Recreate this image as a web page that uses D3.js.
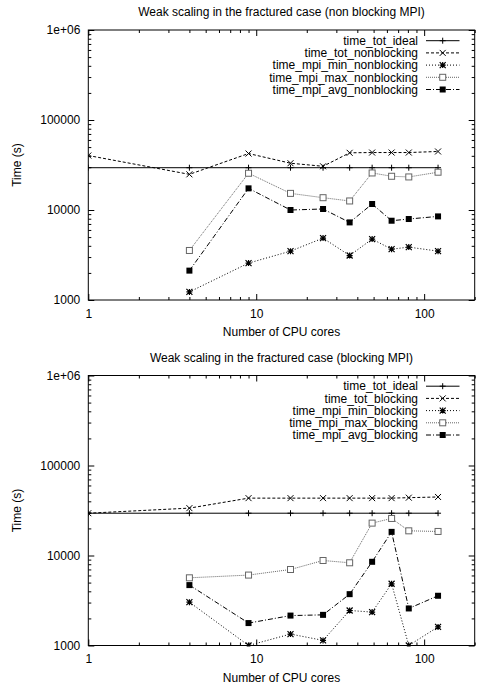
<!DOCTYPE html>
<html>
<head>
<meta charset="utf-8">
<script src="https://cdn.jsdelivr.net/npm/d3@7"></script>
<style>
  html, body { margin: 0; padding: 0; background: #fff; }
  svg { display: block; font-family: "Liberation Sans", Arial, sans-serif; }
</style>
</head>
<body>
<svg id="chart" width="483" height="689"></svg>
<script>
// ---- data ----
const cores = [1, 4, 9, 16, 25, 36, 49, 64, 81, 121];

const xMajorTicks = [1, 10, 100];
const xMinorTicks = [2, 3, 4, 5, 6, 7, 8, 9, 20, 30, 40, 50, 60, 70, 80, 90, 200];
const yMajorTicks = [1000, 10000, 100000, 1000000];
const yMinorTicks = [2000, 3000, 4000, 5000, 6000, 7000, 8000, 9000,
  20000, 30000, 40000, 50000, 60000, 70000, 80000, 90000,
  200000, 300000, 400000, 500000, 600000, 700000, 800000, 900000];
const yTickLabels = ["1000", "10000", "100000", "1e+06"];

// non blocking
const timeTotIdeal = [29500, 29500, 29500, 29500, 29500, 29500, 29500, 29500, 29500, 29500];
const timeTotNonblocking = [40300, 24900, 42400, 33100, 30600, 43200, 43500, 43500, 43500, 44700];
const timeMpiMinNonblocking = [null, 1230, 2570, 3490, 4870, 3120, 4750, 3670, 3870, 3490];
const timeMpiMaxNonblocking = [null, 3550, 25600, 15300, 13700, 12600, 25800, 23700, 23300, 26300];
const timeMpiAvgNonblocking = [null, 2120, 17400, 10000, 10260, 7280, 11660, 7600, 7940, 8490];

// blocking
const timeTotBlocking = [29500, 33600, 43400, 43400, 43400, 43400, 43400, 43400, 43900, 44700];
const timeMpiMinBlocking = [null, 3030, 1000, 1340, 1140, 2450, 2350, 4850, 1000, 1610];
const timeMpiMaxBlocking = [null, 5650, 6060, 6990, 8800, 8300, 22900, 25800, 18800, 18500];
const timeMpiAvgBlocking = [null, 4690, 1775, 2150, 2190, 3720, 8510, 18300, 2580, 3570];

const charts = [
  {
    title: "Weak scaling in the fractured case (non blocking MPI)",
    series: [
      { name: "time_tot_ideal", values: timeTotIdeal, style: 0 },
      { name: "time_tot_nonblocking", values: timeTotNonblocking, style: 1 },
      { name: "time_mpi_min_nonblocking", values: timeMpiMinNonblocking, style: 2 },
      { name: "time_mpi_max_nonblocking", values: timeMpiMaxNonblocking, style: 3 },
      { name: "time_mpi_avg_nonblocking", values: timeMpiAvgNonblocking, style: 4 }
    ]
  },
  {
    title: "Weak scaling in the fractured case (blocking MPI)",
    series: [
      { name: "time_tot_ideal", values: timeTotIdeal, style: 0 },
      { name: "time_tot_blocking", values: timeTotBlocking, style: 1 },
      { name: "time_mpi_min_blocking", values: timeMpiMinBlocking, style: 2 },
      { name: "time_mpi_max_blocking", values: timeMpiMaxBlocking, style: 3 },
      { name: "time_mpi_avg_blocking", values: timeMpiAvgBlocking, style: 4 }
    ]
  }
];

// ---- styles ----
const styles = [
  { dash: null, color: "#000", width: 1, marker: "plus" },
  { dash: "3,2", color: "#000", width: 1, marker: "cross" },
  { dash: "1,2", color: "#000", width: 1, marker: "star" },
  { dash: "1,1", color: "#666", width: 1, marker: "openSquare" },
  { dash: "5,2,1,2", color: "#000", width: 1, marker: "filledSquare" }
];

const svg = d3.select("#chart");
const left = 88.3, right = 474.7;

function drawMarker(g, type, cx, cy, color) {
  const s = 3;
  if (type === "plus") {
    g.append("path").attr("d", `M${cx - s},${cy}H${cx + s}M${cx},${cy - s}V${cy + s}`)
      .attr("stroke", color).attr("stroke-width", 1).attr("fill", "none");
  } else if (type === "cross") {
    g.append("path").attr("d", `M${cx - s},${cy - s}L${cx + s},${cy + s}M${cx - s},${cy + s}L${cx + s},${cy - s}`)
      .attr("stroke", color).attr("stroke-width", 1).attr("fill", "none");
  } else if (type === "star") {
    g.append("path").attr("d", `M${cx - s},${cy - s}L${cx + s},${cy + s}M${cx - s},${cy + s}L${cx + s},${cy - s}M${cx - s},${cy}H${cx + s}M${cx},${cy - s}V${cy + s}`)
      .attr("stroke", color).attr("stroke-width", 1.2).attr("fill", "none");
  } else if (type === "openSquare") {
    g.append("rect").attr("x", cx - s).attr("y", cy - s).attr("width", 2 * s).attr("height", 2 * s)
      .attr("stroke", color).attr("stroke-width", 1).attr("fill", "#fff");
  } else if (type === "filledSquare") {
    g.append("rect").attr("x", cx - s).attr("y", cy - s).attr("width", 2 * s).attr("height", 2 * s)
      .attr("fill", "#000");
  }
}

charts.forEach((chart, ci) => {
  const off = ci * 345.5;
  const top = 30 + off, bottom = 300 + off;
  const x = d3.scaleLog().domain([1, 200]).range([left, right]);
  const y = d3.scaleLog().domain([1000, 1000000]).range([bottom, top]);
  const g = svg.append("g");

  const clipId = "clip" + ci;
  svg.append("clipPath").attr("id", clipId).append("rect")
    .attr("x", left).attr("y", top - 1).attr("width", right - left).attr("height", bottom - top + 2);

  // title
  g.append("text").attr("x", (left + right) / 2).attr("y", 12 + off).attr("dy", "0.35em")
    .attr("text-anchor", "middle").attr("font-size", 12).text(chart.title);

  // axes: major with labels
  const axB = g.append("g").attr("transform", `translate(0,${bottom})`)
    .call(d3.axisBottom(x).tickValues(xMajorTicks).tickSize(-6).tickPadding(9).tickFormat(d3.format("d")));
  const axBm = g.append("g").attr("transform", `translate(0,${bottom})`)
    .call(d3.axisBottom(x).tickValues(xMinorTicks).tickSize(-3).tickFormat(""));
  const axT = g.append("g").attr("transform", `translate(0,${top})`)
    .call(d3.axisTop(x).tickValues(xMajorTicks).tickSize(-6).tickFormat(""));
  const axTm = g.append("g").attr("transform", `translate(0,${top})`)
    .call(d3.axisTop(x).tickValues(xMinorTicks).tickSize(-3).tickFormat(""));
  const axL = g.append("g").attr("transform", `translate(${left},0)`)
    .call(d3.axisLeft(y).tickValues(yMajorTicks).tickSize(-6).tickPadding(8)
      .tickFormat((d, i) => yTickLabels[i]));
  const axLm = g.append("g").attr("transform", `translate(${left},0)`)
    .call(d3.axisLeft(y).tickValues(yMinorTicks).tickSize(-3).tickFormat(""));
  const axR = g.append("g").attr("transform", `translate(${right},0)`)
    .call(d3.axisRight(y).tickValues(yMajorTicks).tickSize(-6).tickFormat(""));
  const axRm = g.append("g").attr("transform", `translate(${right},0)`)
    .call(d3.axisRight(y).tickValues(yMinorTicks).tickSize(-3).tickFormat(""));
  [axB, axBm, axT, axTm, axL, axLm, axR, axRm].forEach(a => {
    a.select(".domain").remove();
    a.selectAll("text").attr("font-size", 12).attr("font-family", "Liberation Sans, Arial, sans-serif").attr("fill", "#000");
    a.selectAll("line").attr("stroke", "#000");
  });

  // frame
  g.append("rect").attr("x", left).attr("y", top).attr("width", right - left).attr("height", bottom - top)
    .attr("fill", "none").attr("stroke", "#000").attr("stroke-width", 1);

  // axis titles
  g.append("text").attr("x", (left + right) / 2).attr("y", 332 + off).attr("dy", "0.35em")
    .attr("text-anchor", "middle").attr("font-size", 12).text("Number of CPU cores");
  g.append("text").attr("transform", `translate(17,${(top + bottom) / 2}) rotate(-90)`).attr("dy", "0.35em")
    .attr("text-anchor", "middle").attr("font-size", 12).text("Time (s)");

  // series
  const plot = g.append("g").attr("clip-path", `url(#${clipId})`);
  chart.series.forEach((s, si) => {
    const st = styles[s.style];
    const pts = cores.map((c, i) => ({ c, v: s.values[i] })).filter(d => d.v != null);
    const line = d3.line().x(d => x(d.c)).y(d => y(d.v));
    plot.append("path").attr("d", line(pts)).attr("fill", "none")
      .attr("stroke", st.color).attr("stroke-width", st.width)
      .attr("stroke-dasharray", st.dash);
    pts.forEach(d => drawMarker(plot, st.marker, x(d.c), y(d.v), st.color));

    // legend
    const ly = 40.7 + off + si * 12.2;
    g.append("text").attr("x", 418).attr("y", ly).attr("dy", "0.35em").attr("text-anchor", "end")
      .attr("font-size", 12).text(s.name);
    g.append("line").attr("x1", 426).attr("x2", 459.5).attr("y1", ly).attr("y2", ly)
      .attr("stroke", st.color).attr("stroke-width", st.width).attr("stroke-dasharray", st.dash);
    drawMarker(g, st.marker, 442.7, ly, st.color);
  });
});
</script>
</body>
</html>
